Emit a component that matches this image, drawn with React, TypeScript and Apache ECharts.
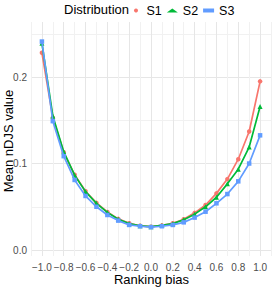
import React, { useEffect, useRef } from "react";
import * as echarts from "echarts";

const xValues = [-1.0, -0.9, -0.8, -0.7, -0.6, -0.5, -0.4, -0.3, -0.2, -0.1, 0.0, 0.1, 0.2, 0.3, 0.4, 0.5, 0.6, 0.7, 0.8, 0.9, 1.0];
const s1 = [0.228, 0.153, 0.113, 0.087, 0.068, 0.0545, 0.044, 0.036, 0.031, 0.028, 0.027, 0.0285, 0.031, 0.0355, 0.043, 0.052, 0.0655, 0.082, 0.105, 0.137, 0.195];
const s2 = [0.239, 0.155, 0.1135, 0.0865, 0.0675, 0.054, 0.0435, 0.0355, 0.0305, 0.028, 0.027, 0.0285, 0.0305, 0.035, 0.0415, 0.05, 0.061, 0.0765, 0.0935, 0.119, 0.166];
const s3 = [0.241, 0.149, 0.1085, 0.081, 0.0625, 0.05, 0.0405, 0.034, 0.029, 0.0275, 0.0265, 0.0275, 0.029, 0.032, 0.0375, 0.0443, 0.054, 0.0647, 0.0794, 0.1, 0.1326];
const seriesNames = ["S1", "S2", "S3"];
const seriesColors = ["#F8766D", "#00BA38", "#619CFF"];
const seriesSymbols = ["circle", "triangle", "rect"];
const yTicks = [0, 0.1, 0.2];
const yGrid = [0, 0.05, 0.1, 0.15, 0.2, 0.25];
const legendTitle = "Distribution";
const xTitle = "Ranking bias";
const yTitle = "Mean nDJS value";

const FONT = "'Liberation Sans', Arial, Helvetica, sans-serif";

export default function App() {
  const ref = useRef<HTMLDivElement>(null);
  useEffect(() => {
    if (!ref.current) return;
    const chart = echarts.init(ref.current, undefined, { renderer: "svg" });
    const values = [s1, s2, s3];
    chart.setOption({
      animation: false,
      backgroundColor: "#ffffff",
      grid: { left: 31, right: 2, top: 22, bottom: 32 },
      legend: {
        left: 134,
        top: 4,
        padding: 0,
        itemWidth: 11,
        itemHeight: 4,
        itemGap: 5,
        textStyle: { fontFamily: FONT, fontSize: 12.5, color: "#000000" },
        data: seriesNames.map((n, i) => ({ name: n, icon: seriesSymbols[i], itemStyle: { color: seriesColors[i] } })),
      },
      graphic: [
        {
          type: "text",
          left: 64,
          top: 3,
          style: { text: legendTitle, fontFamily: FONT, fontSize: 13, fill: "#000000" },
        },
        {
          type: "text",
          x: 151.5,
          y: 279,
          style: { text: xTitle, fontFamily: FONT, fontSize: 13, fill: "#000000", align: "center", verticalAlign: "middle" },
        },
        {
          type: "text",
          x: 8.5,
          y: 141,
          rotation: Math.PI / 2,
          style: { text: yTitle, fontFamily: FONT, fontSize: 13, fill: "#000000", align: "center", verticalAlign: "middle" },
        },
      ],
      xAxis: {
        type: "value",
        min: -1.1,
        max: 1.1,
        interval: 0.1,
        axisLine: { show: false },
        axisTick: { show: false },
        axisLabel: {
          fontFamily: FONT,
          fontSize: 10,
          color: "#4D4D4D",
          margin: 6,
          showMinLabel: true,
          showMaxLabel: true,
          formatter: (v: number) => {
            const k = Math.round(v * 10);
            if (Math.abs(k) > 10 || k % 2 !== 0) return "";
            const s = (Math.abs(k) / 10).toFixed(1);
            return k < 0 ? "\u2212" + s : s;
          },
        },
        splitLine: { show: true, lineStyle: { color: ["#F1F1F1", "#E6E6E6"], width: 1 } },
      },
      yAxis: {
        type: "value",
        min: -0.0069,
        max: 0.2636,
        axisLine: { show: false },
        axisTick: { show: false, customValues: yGrid },
        axisLabel: {
          customValues: yTicks,
          fontFamily: FONT,
          fontSize: 10,
          color: "#4D4D4D",
          margin: 4,
          formatter: (v: number) => v.toFixed(1),
        },
        splitLine: { show: true, lineStyle: { color: ["#E6E6E6", "#F1F1F1"], width: 1 } },
      },
      series: seriesNames.map((n, i) => ({
        name: n,
        type: "line",
        data: xValues.map((x, j) => [x, values[i][j]]),
        symbol: seriesSymbols[i],
        symbolSize: i === 1 ? 5 : 4.5,
        showSymbol: true,
        color: seriesColors[i],
        lineStyle: { width: 1.7, color: seriesColors[i] },
        itemStyle: { color: seriesColors[i] },
        z: 2 + i,
      })),
    });
    return () => chart.dispose();
  }, []);
  return <div ref={ref} style={{ width: 274, height: 288, position: "absolute", left: 0, top: 0 }} />;
}
